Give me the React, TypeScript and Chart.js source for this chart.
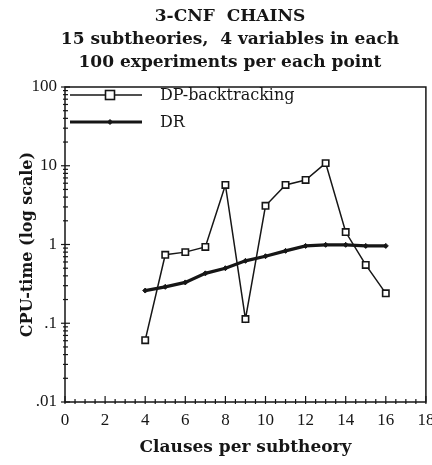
import React, { useEffect, useRef } from "react";
import { Chart, registerables } from "chart.js";

Chart.register(...registerables);

const clauses = [4, 5, 6, 7, 8, 9, 10, 11, 12, 13, 14, 15, 16];
const dpBacktracking = [0.061, 0.74, 0.8, 0.93, 5.7, 0.113, 3.1, 5.7, 6.6, 10.8, 1.44, 0.55, 0.24];
const drValues = [0.26, 0.29, 0.33, 0.43, 0.5, 0.62, 0.71, 0.83, 0.96, 0.99, 0.99, 0.96, 0.96];
const seriesNames = ["DP-backtracking", "DR"];
const titleLines = ["3-CNF  CHAINS", "15 subtheories,  4 variables in each", "100 experiments per each point"];
const yTickLabels: Record<string, string> = { "100": "100", "10": "10", "1": "1", "0.1": ".1", "0.01": ".01" };
const xTitle = "Clauses per subtheory";
const yTitle = "CPU-time (log scale)";

const SERIF = "'Liberation Serif', 'DejaVu Serif', serif";
const WIDE_SERIF = "'DejaVu Serif', 'Liberation Serif', serif";
const INK = "#161616";

const framePlugin = {
  id: "frameTicks",
  afterDatasetsDraw(chart: any) {
    const { ctx, chartArea: a, scales } = chart;
    const xs = scales.x;
    const ys = scales.y;
    ctx.save();
    ctx.strokeStyle = INK;
    ctx.lineWidth = 1.5;
    ctx.strokeRect(a.left, a.top, a.right - a.left, a.bottom - a.top);
    ctx.lineWidth = 1.2;
    for (let v = 0; v <= 18.001; v += 0.5) {
      const px = xs.getPixelForValue(v);
      const major = Math.abs(v / 2 - Math.round(v / 2)) < 1e-6;
      ctx.beginPath();
      ctx.moveTo(px, a.bottom + 2);
      ctx.lineTo(px, a.bottom - (major ? 6 : 3));
      ctx.stroke();
    }
    for (let e = -2; e <= 1; e++) {
      for (let m = 1; m <= 9; m++) {
        const v = m * Math.pow(10, e);
        const py = ys.getPixelForValue(v);
        const major = m === 1;
        ctx.beginPath();
        ctx.moveTo(a.left - (major ? 4 : 2), py);
        ctx.lineTo(a.left + (major ? 5 : 3), py);
        ctx.stroke();
      }
    }
    const top = ys.getPixelForValue(100);
    ctx.beginPath();
    ctx.moveTo(a.left - 4, top);
    ctx.lineTo(a.left + 5, top);
    ctx.stroke();

    // legend
    const datasets = chart.data.datasets;
    const rows = [a.top + 8, a.top + 35];
    datasets.forEach((ds: any, i: number) => {
      const y = rows[i];
      const x0 = a.left + 5;
      const x1 = a.left + 77;
      ctx.strokeStyle = ds.borderColor;
      ctx.lineWidth = ds.borderWidth;
      ctx.beginPath();
      ctx.moveTo(x0, y);
      ctx.lineTo(x1, y);
      ctx.stroke();
      const mx = a.left + 45;
      ctx.lineWidth = ds.pointBorderWidth;
      ctx.fillStyle = ds.pointBackgroundColor;
      ctx.strokeStyle = ds.pointBorderColor;
      const r = ds.pointRadius;
      if (ds.pointStyle === "rect") {
        ctx.fillRect(mx - r, y - r, 2 * r, 2 * r);
        ctx.strokeRect(mx - r, y - r, 2 * r, 2 * r);
      } else {
        ctx.beginPath();
        ctx.moveTo(mx, y - r);
        ctx.lineTo(mx + r, y);
        ctx.lineTo(mx, y + r);
        ctx.lineTo(mx - r, y);
        ctx.closePath();
        ctx.fill();
        ctx.stroke();
      }
      ctx.fillStyle = INK;
      ctx.font = `16px ${WIDE_SERIF}`;
      ctx.textBaseline = "middle";
      ctx.textAlign = "left";
      ctx.fillText(ds.label, a.left + 95, y + 1);
    });
    ctx.restore();
  },
  afterDraw(chart: any) {
    const { ctx } = chart;
    ctx.save();
    ctx.fillStyle = INK;
    ctx.font = `bold 17px ${WIDE_SERIF}`;
    ctx.textAlign = "center";
    ctx.textBaseline = "middle";
    titleLines.forEach((t, i) => ctx.fillText(t, 230, 17 + i * 23));
    ctx.restore();
  },
};

export default function App() {
  const ref = useRef<HTMLCanvasElement | null>(null);
  useEffect(() => {
    document.body.style.margin = "0";
    const canvas = ref.current;
    if (!canvas) return;
    const chart = new Chart(canvas, {
      type: "line",
      data: {
        datasets: [
          {
            label: seriesNames[0],
            data: clauses.map((c, i) => ({ x: c, y: dpBacktracking[i] })),
            borderColor: INK,
            borderWidth: 1.5,
            pointStyle: "rect",
            pointRadius: 4.5,
            pointBackgroundColor: "#ffffff",
            pointBorderColor: INK,
            pointBorderWidth: 1.6,
            tension: 0,
          },
          {
            label: seriesNames[1],
            data: clauses.map((c, i) => ({ x: c, y: drValues[i] })),
            borderColor: INK,
            borderWidth: 3.2,
            pointStyle: "rectRot",
            pointRadius: 2.5,
            pointBackgroundColor: INK,
            pointBorderColor: INK,
            pointBorderWidth: 1,
            tension: 0,
          },
        ],
      },
      options: {
        responsive: false,
        animation: false,
        layout: { padding: { left: 0, right: 6, top: 87, bottom: 0 } },
        plugins: {
          legend: { display: false },
          tooltip: { enabled: false },
          title: { display: false },
        },
        scales: {
          x: {
            type: "linear",
            min: 0,
            max: 18,
            grid: { display: false, drawTicks: false },
            border: { display: false },
            ticks: {
              stepSize: 2,
              padding: 8,
              color: INK,
              font: { family: SERIF, size: 17 },
              maxRotation: 0,
            },
            title: {
              display: true,
              text: xTitle,
              color: INK,
              font: { family: WIDE_SERIF, size: 17, weight: "bold" },
              padding: { top: 0, bottom: 7 },
            },
            afterFit: (s: any) => {
              s.height = 63;
              s.paddingRight = 0;
              s.paddingLeft = 0;
            },
          },
          y: {
            type: "logarithmic",
            min: 0.01,
            max: 100,
            grid: { display: false, drawTicks: false },
            border: { display: false },
            ticks: {
              autoSkip: false,
              padding: 8,
              color: INK,
              font: { family: SERIF, size: 17 },
              callback: (v: any) => {
                const key = String(Number(Number(v).toPrecision(3)));
                return yTickLabels[key] ?? "";
              },
            },
            title: {
              display: true,
              text: yTitle,
              color: INK,
              font: { family: WIDE_SERIF, size: 16, weight: "bold" },
              padding: { top: 18, bottom: 0 },
            },
            afterFit: (s: any) => {
              s.width = 65;
              s.paddingTop = 0;
              s.paddingBottom = 0;
            },
          },
        },
      },
      plugins: [framePlugin],
    });
    return () => chart.destroy();
  }, []);
  return (
    <div style={{ width: 432, height: 465 }}>
      <canvas ref={ref} width={432} height={465} />
    </div>
  );
}
